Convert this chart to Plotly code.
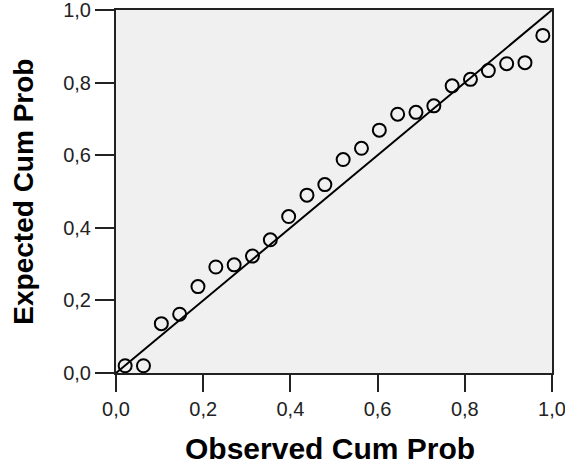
import plotly.graph_objects as go

observed = [0.021, 0.063, 0.104, 0.146, 0.188, 0.229, 0.271, 0.313, 0.354, 0.396,
            0.438, 0.479, 0.521, 0.563, 0.604, 0.646, 0.688, 0.729, 0.771, 0.813,
            0.854, 0.896, 0.938, 0.979]
expected = [0.020, 0.020, 0.136, 0.162, 0.238, 0.292, 0.298, 0.322, 0.367, 0.431,
            0.490, 0.519, 0.588, 0.619, 0.669, 0.713, 0.718, 0.736, 0.791, 0.809,
            0.833, 0.852, 0.855, 0.930]
ref_line = [0.0, 1.0]
tick_vals = [0.0, 0.2, 0.4, 0.6, 0.8, 1.0]
x_title = "Observed Cum Prob"
y_title = "Expected Cum Prob"

fig = go.Figure()
fig.add_trace(go.Scatter(x=ref_line, y=ref_line, mode="lines",
                         line=dict(color="black", width=2), hoverinfo="skip"))
fig.add_trace(go.Scatter(x=observed, y=expected, mode="markers",
                         marker=dict(symbol="circle-open", size=13,
                                     line=dict(color="black", width=2), color="black")))

axis_common = dict(range=[0, 1], tickvals=tick_vals, tickformat=".1f",
                   showgrid=False, zeroline=False, showline=True, linecolor="#222",
                   linewidth=2, mirror=True, ticks="outside", tickcolor="#222",
                   tickwidth=2, ticklabeloverflow="allow", automargin=False,
                   tickfont=dict(family="Liberation Sans", size=20, color="#222"))

fig.update_xaxes(**axis_common, ticklen=17)
fig.update_yaxes(**axis_common, ticklen=19)

fig.update_layout(
    width=565, height=467,
    margin=dict(l=116, r=13, t=10, b=94, autoexpand=False),
    plot_bgcolor="#f0f0f0", paper_bgcolor="white",
    separators=", ",
    showlegend=False,
    annotations=[
        dict(text=x_title, xref="paper", yref="paper", x=0.49, y=-0.209,
             xanchor="center", yanchor="middle", showarrow=False,
             font=dict(family="Liberation Sans", size=30, color="black", weight="bold")),
        dict(text=y_title, xref="paper", yref="paper", x=-0.213, y=0.5,
             xanchor="center", yanchor="middle", showarrow=False, textangle=-90,
             font=dict(family="Liberation Sans", size=28, color="black", weight="bold")),
    ],
)

fig.write_html("out.html")
